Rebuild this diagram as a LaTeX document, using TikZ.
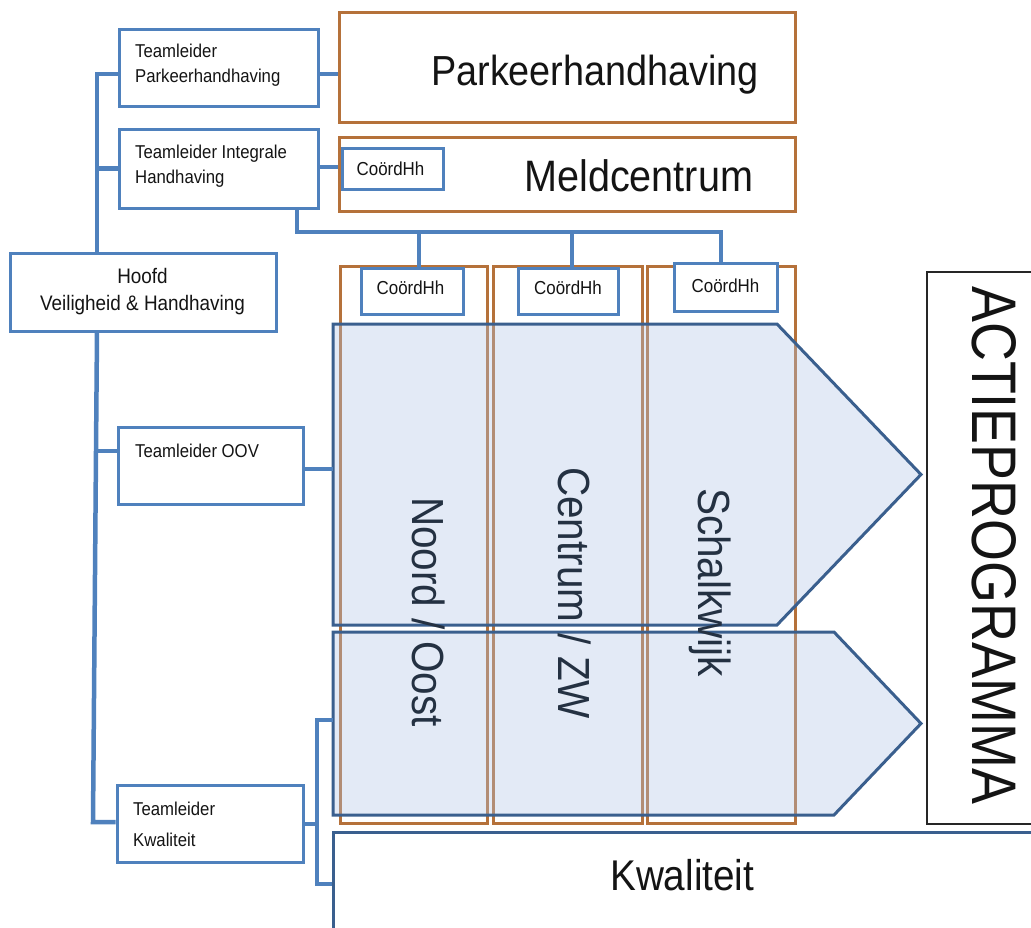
\documentclass[tikz,border=0pt]{standalone}
\usepackage{fontspec}
\setmainfont{Liberation Sans}[FakeStretch=0.9]
\newfontfamily\tallfont{Liberation Sans}[FakeStretch=0.855]
\usetikzlibrary{calc}

\definecolor{lineblue}{HTML}{4F81BD}
\definecolor{darkblue}{HTML}{3A5F8E}
\definecolor{copper}{HTML}{B5713A}
\definecolor{chevfill}{HTML}{AFC3E5}
\definecolor{ink}{HTML}{141414}
\definecolor{slate}{HTML}{243142}

\begin{document}
\begin{tikzpicture}[x=1pt,y=-1pt,
  bluebox/.style={draw=lineblue, line width=3pt, fill=white, inner sep=0pt},
  unitbox/.style={draw=copper, line width=3pt, inner sep=0pt},
  conn/.style={draw=lineblue, line width=4.5pt},
  small/.style={font=\fontsize{18.6}{22}\selectfont, text=ink, inner sep=0pt},
  headtext/.style={font=\fontsize{21}{25}\selectfont, text=ink, inner sep=0pt},
  coordtext/.style={font=\fontsize{18.8}{22}\selectfont, text=ink, inner sep=0pt, anchor=base},
  big/.style={font=\fontsize{43}{50}\selectfont, text=ink, inner sep=0pt, anchor=base west},
  district/.style={font=\fontsize{45}{50}\selectfont, text=slate, inner sep=0pt, rotate=-90, anchor=base west},
  chevron/.style={draw=darkblue, line width=3pt, fill=chevfill, fill opacity=0.35, draw opacity=1},
]
\useasboundingbox (0,0) rectangle (1031,927);
\clip (0,0) rectangle (1031,927);

% ---------- district columns ----------
\node[unitbox, minimum width=147, minimum height=557] (col1) at (413.5,544.5) {};
\node[unitbox, minimum width=149, minimum height=557] (col2) at (567.5,544.5) {};
\node[unitbox, minimum width=148, minimum height=557] (col3) at (721,544.5) {};

% ---------- chevrons ----------
\draw[chevron] (333,324) -- (777,324) -- (921,474.5) -- (777,625) -- (333,625) -- cycle;
\draw[chevron] (333,632) -- (834,632) -- (921,723.5) -- (834,815) -- (333,815) -- cycle;
\coordinate (ch1w) at (333,469);
\coordinate (ch2w) at (333,720);

% ---------- district labels ----------
\node[district] (noord) at (412,497) {Noord / Oost};
\node[district] (centrum) at (558,467) {Centrum / ZW};
\node[district] (schalk) at (698,488) {Schalkwijk};

% ---------- units on top ----------
\node[unitbox, fill=white, minimum width=456, minimum height=110] (park) at (567,67) {};
\node[unitbox, fill=white, minimum width=456, minimum height=74] (meld) at (567,174) {};
\node[big, font=\fontsize{42}{50}\selectfont] (parkt) at (431,85) {Parkeerhandhaving};
\node[big, font=\fontsize{44}{50}\selectfont] (meldt) at (524,191) {Meldcentrum};

% ---------- quality band and action programme ----------
\node[draw=darkblue, line width=3pt, inner sep=0pt, minimum width=712, minimum height=108] (kwal) at (689,886) {};
\node[big] (kwalt) at (610,890) {Kwaliteit};
\node[draw=black!85, line width=1.5pt, inner sep=0pt, minimum width=118, minimum height=552] (actie) at (986,548) {};
\node[font=\tallfont\fontsize{63}{70}\selectfont, text=ink, inner sep=0pt, rotate=-90, anchor=base west] (actiet) at (972,286) {ACTIEPROGRAMMA};

% ---------- connector corners ----------
\coordinate (vtop) at (97,74);
\coordinate (vmid) at (96,451);
\coordinate (vbot) at (93,822);
\coordinate (bus) at (297,232);
\coordinate (brtop) at (317,720);
\coordinate (brbot) at (317,884);

% ---------- management boxes ----------
\node[bluebox, minimum width=199, minimum height=77] (tp) at (218.5,67.5) {};
\node[bluebox, minimum width=199, minimum height=79] (ti) at (218.5,168.5) {};
\node[bluebox, minimum width=266, minimum height=78] (hoofd) at (143,292) {};
\node[bluebox, minimum width=185, minimum height=77] (oov) at (210.5,465.5) {};
\node[bluebox, minimum width=186, minimum height=77] (tk) at (210,823.5) {};

% coordinators
\node[bluebox, minimum width=101, minimum height=41] (cm) at (392.5,168.5) {};
\node[bluebox, minimum width=102, minimum height=46] (c1) at (412,291) {};
\node[bluebox, minimum width=100, minimum height=46] (c2) at (568,291) {};
\node[bluebox, minimum width=103, minimum height=48] (c3) at (725.5,287) {};

\draw[conn] (hoofd.north -| vtop) -- (vtop) -- (vtop -| tp.west);
\draw[conn] (ti.west -| vtop) -- (ti.west);
\draw[conn] (tp.east |- 0,74) -- (park.west |- 0,74);
\draw[conn] (ti.east |- 0,167) -- (meld.west |- 0,167);
\draw[conn] (ti.south -| bus) -- (bus) -- (721,232) -- (c3.north -| 721,0);
\draw[conn] (419,232) -- (c1.north -| 419,0);
\draw[conn] (572,232) -- (c2.north -| 572,0);
\draw[conn] (hoofd.south -| 97,0) -- (vmid) -- (vbot) -- (vbot -| tk.west);
\draw[conn] (vmid) -- (vmid -| oov.west);
\draw[conn] (oov.east |- ch1w) -- (ch1w);
\draw[conn] (ch2w) -- (brtop) -- (brbot) -- (kwal.west |- brbot);
\draw[conn] (tk.east |- 0,824) -- (brtop |- 0,824);

% ---------- texts ----------
\node[small, anchor=base west] (tp1) at (135,57) {Teamleider};
\node[small, anchor=base west] (tp2) at (135,82) {Parkeerhandhaving};
\node[small, anchor=base west] (ti1) at (135,158) {Teamleider Integrale};
\node[small, anchor=base west] (ti2) at (135,183) {Handhaving};
\node[headtext, anchor=base] (h1) at (142.5,283) {Hoofd};
\node[headtext, anchor=base] (h2) at (142.5,310) {Veiligheid \& Handhaving};
\node[small, anchor=base west] (oov1) at (135,457) {Teamleider OOV};
\node[small, anchor=base west] (tk1) at (133,815) {Teamleider};
\node[small, anchor=base west] (tk2) at (133,846) {Kwaliteit};

\node[coordtext] (cmt) at (390.5,175.7) {CoördHh};
\node[coordtext] (c1t) at (410.5,294.3) {CoördHh};
\node[coordtext] (c2t) at (568,294.3) {CoördHh};
\node[coordtext] (c3t) at (725.5,292.7) {CoördHh};
\end{tikzpicture}
\end{document}
